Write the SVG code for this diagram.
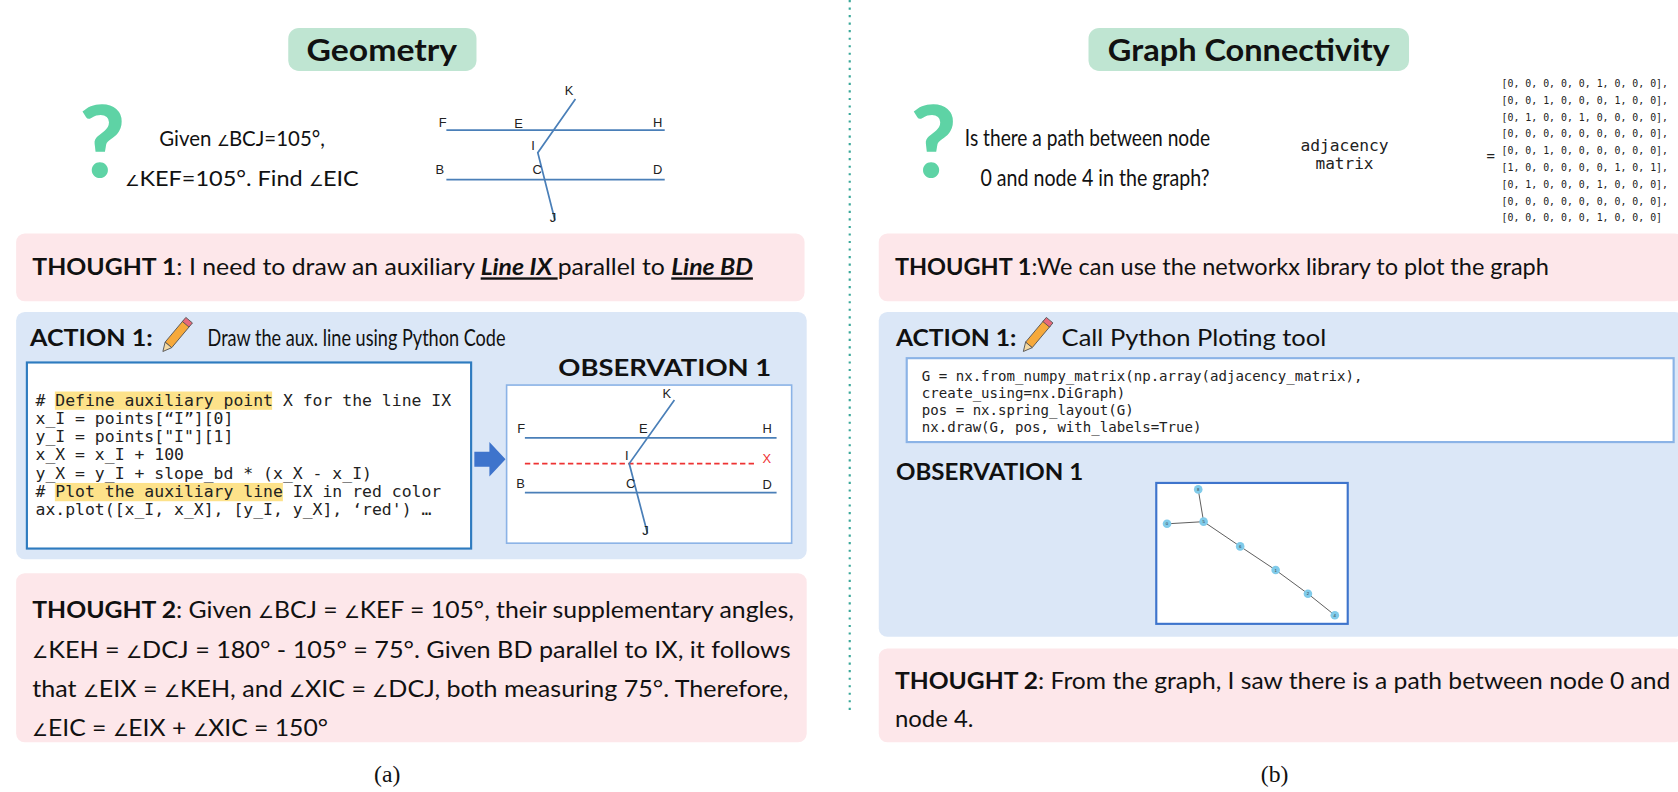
<svg xmlns="http://www.w3.org/2000/svg" width="1678" height="792" viewBox="0 0 1678 792">
<defs>
<style>
.t{font-family:Lato,"Noto Sans",sans-serif;fill:#111}
.m{font-family:"DejaVu Sans Mono","Liberation Mono",monospace;fill:#222}
.pink{fill:#fde7ea}
.blue{fill:#dbe7f7}
.gl{stroke:#4a7fb8;stroke-width:1.6;fill:none}
.lbl{font-family:"Liberation Sans",sans-serif;font-size:12px;fill:#222}
.qm{font-family:Lato,sans-serif;font-weight:900;fill:#5ed3a5}
.nd{fill:#80cbea}
.ed{stroke:#444;stroke-width:0.8}
.nl{font-family:"Liberation Sans",sans-serif;font-size:4px;fill:#333;text-anchor:middle}
.a{font-size:0.7em}
</style>
<g id="pencil">
<rect x="-4" y="-16" width="8" height="26" fill="#f6a93b" stroke="#555" stroke-width="0.8"/>
<rect x="-4" y="-20" width="8" height="5" fill="#e8697a" stroke="#555" stroke-width="0.8"/>
<path d="M-4,10 L0,18 L4,10 Z" fill="#f3d9a4" stroke="#555" stroke-width="0.8"/>
</g>
</defs>
<rect width="1678" height="792" fill="#fff"/>
<g transform="scale(1.0756)">
<line x1="790" y1="0" x2="790" y2="662" stroke="#3aa89a" stroke-width="2" stroke-dasharray="2,5"/>

<g id="title-a"><rect x="268" y="26" width="175" height="40" rx="10" fill="#bfe5d2"/><text class="t" x="355" y="57" font-size="29" font-weight="700" text-anchor="middle" textLength="140" lengthAdjust="spacingAndGlyphs">Geometry</text></g>
<g id="title-b"><rect x="1012" y="26" width="298" height="40" rx="10" fill="#bfe5d2"/><text class="t" x="1161" y="57" font-size="29" font-weight="700" text-anchor="middle" textLength="262" lengthAdjust="spacingAndGlyphs">Graph Connectivity</text></g>

<g id="question-a">
<text class="qm" x="95" y="165" font-size="92" text-anchor="middle">?</text>
<text class="t" x="225" y="136" font-size="20" text-anchor="middle" textLength="154" lengthAdjust="spacingAndGlyphs">Given <tspan class="a">∠</tspan>BCJ=105°,</text>
<text class="t" x="225" y="173" font-size="20" text-anchor="middle" textLength="217" lengthAdjust="spacingAndGlyphs"><tspan class="a">∠</tspan>KEF=105°. Find <tspan class="a">∠</tspan>EIC</text>
</g>
<g id="figure-a">
<line class="gl" x1="415" y1="121" x2="618" y2="121"/>
<line class="gl" x1="415" y1="167" x2="618" y2="167"/>
<polyline class="gl" points="535,92 500,142 516,205"/>
<text class="lbl" x="408" y="118">F</text><text class="lbl" x="607" y="118">H</text>
<text class="lbl" x="405" y="162">B</text><text class="lbl" x="607" y="162">D</text>
<text class="lbl" x="525" y="88">K</text><text class="lbl" x="478" y="119">E</text>
<text class="lbl" x="494" y="139">I</text><text class="lbl" x="495" y="162">C</text>
<text class="lbl" x="511" y="206">J</text>
</g>

<g id="thought1-a"><rect class="pink" x="15" y="217" width="733" height="63" rx="8"/>
<text class="t" x="30" y="256" font-size="22" textLength="670" lengthAdjust="spacingAndGlyphs"><tspan font-weight="700">THOUGHT 1</tspan>: I need to draw an auxiliary <tspan font-weight="700" font-style="italic" text-decoration="underline">Line IX </tspan>parallel to <tspan font-weight="700" font-style="italic" text-decoration="underline">Line BD</tspan></text></g>

<g id="action-a"><rect class="blue" x="15" y="290" width="735" height="230" rx="8"/>
<text class="t" x="28" y="322" font-size="22" font-weight="700" textLength="114" lengthAdjust="spacingAndGlyphs">ACTION 1:</text>
<use href="#pencil" transform="translate(163,313) rotate(40)"/>
<text class="t" x="193" y="322" font-size="22" textLength="277" lengthAdjust="spacingAndGlyphs">Draw the aux. line using Python Code</text>
</g>
<g id="code-a"><rect x="25" y="337" width="413" height="173" fill="#fff" stroke="#2e7bbf" stroke-width="2"/>
<rect x="51" y="364" width="202" height="17" fill="#fde28a"/>
<rect x="51" y="449" width="212" height="17" fill="#fde28a"/>
<g class="m" font-size="15.3">
<text x="33" y="377"># Define auxiliary point X for the line IX</text>
<text x="33" y="394">x_I = points[“I”][0]</text>
<text x="33" y="411">y_I = points["I"][1]</text>
<text x="33" y="428">x_X = x_I + 100</text>
<text x="33" y="445">y_X = y_I + slope_bd * (x_X - x_I)</text>
<text x="33" y="462"># Plot the auxiliary line IX in red color</text>
<text x="33" y="479">ax.plot([x_I, x_X], [y_I, y_X], ‘red') …</text>
</g></g>
<g id="connectors">
<path d="M441,420 L455,420 L455,411 L470,427 L455,443 L455,434 L441,434 Z" fill="#3e74cc"/>
<path d="M1151,415 L1163,415 L1163,428 L1171,428 L1157,443 L1143,428 L1151,428 Z" fill="#3e74cc"/>
</g>
<g id="observation-a">
<text class="t" x="519" y="350" font-size="21" font-weight="700" textLength="198" lengthAdjust="spacingAndGlyphs">OBSERVATION 1</text>
<rect x="471" y="358" width="265" height="147" fill="#fff" stroke="#8bb3e6" stroke-width="1.5"/>
<line class="gl" x1="488" y1="407" x2="722" y2="407"/>
<line class="gl" x1="488" y1="458" x2="722" y2="458"/>
<line x1="488" y1="431" x2="704" y2="431" stroke="#ee3333" stroke-width="1.5" stroke-dasharray="5,3"/>
<polyline class="gl" points="627,372 585,431 602,496"/>
<text class="lbl" x="481" y="403" font-size="14">F</text><text class="lbl" x="709" y="403" font-size="14">H</text>
<text class="lbl" x="709" y="430" font-size="14" style="fill:#ee3333">X</text>
<text class="lbl" x="480" y="454" font-size="14">B</text><text class="lbl" x="709" y="455" font-size="14">D</text>
<text class="lbl" x="616" y="370" font-size="14">K</text><text class="lbl" x="594" y="403" font-size="14">E</text>
<text class="lbl" x="581" y="428" font-size="14">I</text><text class="lbl" x="582" y="454" font-size="14">C</text>
<text class="lbl" x="597" y="497" font-size="14">J</text>
</g>

<g id="thought2-a"><rect class="pink" x="15" y="533" width="735" height="157" rx="8"/>
<g class="t" font-size="22">
<text x="30" y="575" textLength="708" lengthAdjust="spacingAndGlyphs"><tspan font-weight="700">THOUGHT 2</tspan>: Given <tspan class="a">∠</tspan>BCJ = <tspan class="a">∠</tspan>KEF = 105°, their supplementary angles,</text>
<text x="30" y="612" textLength="705" lengthAdjust="spacingAndGlyphs"><tspan class="a">∠</tspan>KEH = <tspan class="a">∠</tspan>DCJ = 180° - 105° = 75°.  Given BD parallel to IX, it follows</text>
<text x="30" y="648" textLength="703" lengthAdjust="spacingAndGlyphs">that <tspan class="a">∠</tspan>EIX = <tspan class="a">∠</tspan>KEH, and <tspan class="a">∠</tspan>XIC = <tspan class="a">∠</tspan>DCJ, both measuring 75°. Therefore,</text>
<text x="30" y="684" textLength="275" lengthAdjust="spacingAndGlyphs"><tspan class="a">∠</tspan>EIC = <tspan class="a">∠</tspan>EIX + <tspan class="a">∠</tspan>XIC = 150°</text>
</g></g>
<text x="360" y="727" font-size="22" text-anchor="middle" font-family="Liberation Serif,serif" fill="#111">(a)</text>

<g id="question-b">
<text class="qm" x="868" y="165" font-size="92" text-anchor="middle">?</text>
<text class="t" x="1011" y="136" font-size="21" text-anchor="middle" textLength="228" lengthAdjust="spacingAndGlyphs">Is there a path between node</text>
<text class="t" x="1018" y="173" font-size="21" text-anchor="middle" textLength="213" lengthAdjust="spacingAndGlyphs">0 and node 4 in the graph?</text>
<text class="m" x="1250" y="140" font-size="14" text-anchor="middle" textLength="82" lengthAdjust="spacingAndGlyphs">adjacency</text>
<text class="m" x="1250" y="157" font-size="14" text-anchor="middle" textLength="54" lengthAdjust="spacingAndGlyphs">matrix</text>
<text class="m" x="1382" y="150" font-size="13">=</text>
<g class="m" font-size="9.2">
<text x="1396" y="81">[0, 0, 0, 0, 0, 1, 0, 0, 0],</text>
<text x="1396" y="96.6">[0, 0, 1, 0, 0, 0, 1, 0, 0],</text>
<text x="1396" y="112.2">[0, 1, 0, 0, 1, 0, 0, 0, 0],</text>
<text x="1396" y="127.8">[0, 0, 0, 0, 0, 0, 0, 0, 0],</text>
<text x="1396" y="143.4">[0, 0, 1, 0, 0, 0, 0, 0, 0],</text>
<text x="1396" y="159">[1, 0, 0, 0, 0, 0, 1, 0, 1],</text>
<text x="1396" y="174.6">[0, 1, 0, 0, 0, 1, 0, 0, 0],</text>
<text x="1396" y="190.2">[0, 0, 0, 0, 0, 0, 0, 0, 0],</text>
<text x="1396" y="205.8">[0, 0, 0, 0, 0, 1, 0, 0, 0]</text>
</g></g>

<g id="thought1-b"><rect class="pink" x="817" y="217" width="748" height="63" rx="8"/>
<text class="t" x="832" y="256" font-size="22" textLength="608" lengthAdjust="spacingAndGlyphs"><tspan font-weight="700">THOUGHT 1</tspan>:We can use the networkx library to plot the graph</text></g>

<g id="action-b"><rect class="blue" x="817" y="290" width="748" height="302" rx="8"/>
<text class="t" x="833" y="322" font-size="22" font-weight="700" textLength="112" lengthAdjust="spacingAndGlyphs">ACTION 1:</text>
<use href="#pencil" transform="translate(963,313) rotate(40)"/>
<text class="t" x="987" y="322" font-size="22" textLength="246" lengthAdjust="spacingAndGlyphs">Call Python Ploting tool</text>
</g>
<g id="code-b"><rect x="843" y="333" width="713" height="78" fill="#fff" stroke="#8bb3e6" stroke-width="2"/>
<g class="m" font-size="13.1">
<text x="857" y="354">G = nx.from_numpy_matrix(np.array(adjacency_matrix),</text>
<text x="857" y="370">create_using=nx.DiGraph)</text>
<text x="857" y="386">pos = nx.spring_layout(G)</text>
<text x="857" y="402">nx.draw(G, pos, with_labels=True)</text>
</g></g>
<g id="observation-b">
<text class="t" x="833" y="446" font-size="21" font-weight="700" textLength="174" lengthAdjust="spacingAndGlyphs">OBSERVATION 1</text>
<rect x="1075" y="449" width="178" height="131" fill="#fff" stroke="#3e74cc" stroke-width="2"/>
<g class="ed">
<line x1="1114" y1="455" x2="1119" y2="485"/><line x1="1085" y1="487" x2="1119" y2="485"/>
<line x1="1119" y1="485" x2="1153" y2="508"/><line x1="1153" y1="508" x2="1186" y2="530"/>
<line x1="1186" y1="530" x2="1216" y2="552"/><line x1="1216" y1="552" x2="1241" y2="572"/>
</g>
<g class="nd">
<circle cx="1114" cy="455" r="4"/><circle cx="1085" cy="487" r="4"/><circle cx="1119" cy="485" r="4"/>
<circle cx="1153" cy="508" r="4"/><circle cx="1186" cy="530" r="4"/><circle cx="1216" cy="552" r="4"/><circle cx="1241" cy="572" r="4"/>
</g>
<text class="nl" x="1114" y="456.5">8</text><text class="nl" x="1085" y="488.5">0</text><text class="nl" x="1119" y="486.5">5</text>
<text class="nl" x="1153" y="509.5">6</text><text class="nl" x="1186" y="531.5">1</text><text class="nl" x="1216" y="553.5">2</text><text class="nl" x="1241" y="573.5">4</text>
</g>

<g id="thought2-b"><rect class="pink" x="817" y="603" width="748" height="87" rx="8"/>
<text class="t" x="832" y="641" font-size="22" textLength="721" lengthAdjust="spacingAndGlyphs"><tspan font-weight="700">THOUGHT 2</tspan>: From the graph, I saw there is a path between node 0 and</text>
<text class="t" x="832" y="676" font-size="22" textLength="73" lengthAdjust="spacingAndGlyphs">node 4.</text></g>
<text x="1185" y="727" font-size="22" text-anchor="middle" font-family="Liberation Serif,serif" fill="#111">(b)</text>
</g>
</svg>
